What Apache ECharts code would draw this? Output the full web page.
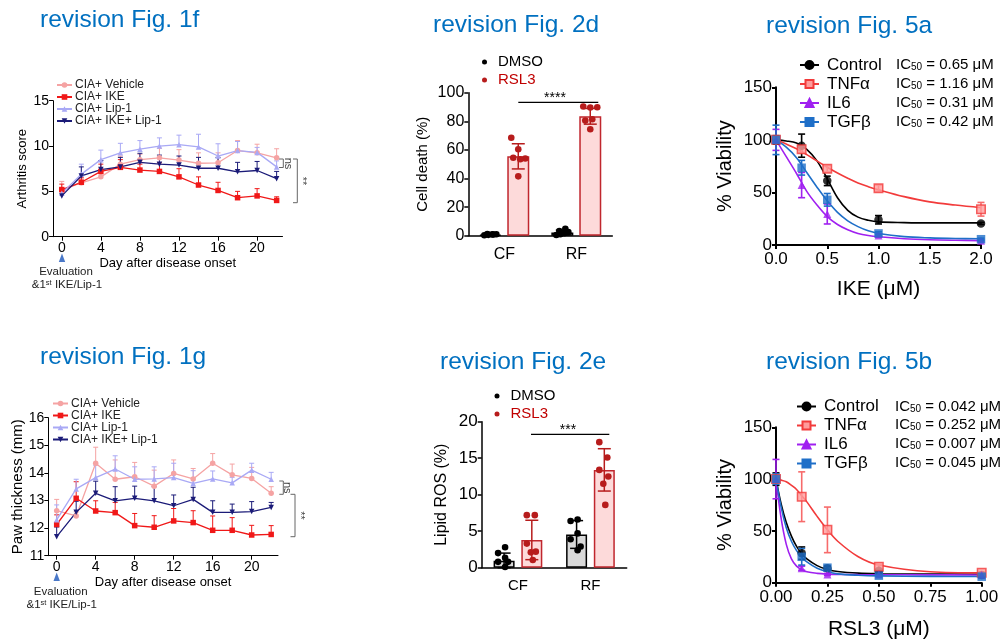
<!DOCTYPE html>
<html>
<head>
<meta charset="utf-8">
<script src="https://cdn.jsdelivr.net/npm/echarts@6/dist/echarts.min.js"></script>
<style>html,body{margin:0;background:#fff}#main{width:1000px;height:640px}</style>
</head>
<body>
<div id="main"></div>
<script>
// ---------- data ----------
var days = [0, 2, 4, 6, 8, 10, 12, 14, 16, 18, 20, 22];
var dayTicks = [0, 4, 8, 12, 16, 20];
var groupNames = ['CIA+ Vehicle', 'CIA+ IKE', 'CIA+ Lip-1', 'CIA+ IKE+ Lip-1'];

// Fig 1f: arthritis score, mean and SEM
var scoreVehicle = [5.1, 5.95, 6.6, 8.0, 8.5, 8.7, 8.45, 8.1, 8.15, 9.5, 9.25, 8.7];
var scoreVehicleSem = [1.0, 0.4, 0.7, 0.9, 0.6, 1.05, 1.15, 1.15, 1.1, 1.1, 0.95, 1.0];
var scoreIke = [5.2, 6.0, 7.2, 7.65, 7.35, 7.2, 6.6, 5.7, 5.1, 4.3, 4.5, 4.0];
var scoreIkeSem = [0.6, 0.5, 0.8, 0.85, 0.65, 0.95, 0.9, 0.9, 0.9, 0.7, 0.8, 0.4];
var scoreLip = [4.8, 6.9, 8.5, 9.25, 9.65, 10.0, 10.15, 9.9, 8.9, 9.5, 9.3, 7.7];
var scoreLipSem = [0.3, 1.1, 1.05, 1.05, 0.95, 0.9, 1.05, 1.4, 1.35, 1.0, 0.55, 0.66];
var scoreBoth = [4.5, 6.7, 7.4, 7.7, 8.2, 8.0, 7.9, 7.55, 7.55, 7.15, 7.3, 6.4];
var scoreBothSem = [0.8, 1.0, 1.0, 1.05, 1.0, 1.0, 1.0, 1.2, 1.2, 1.05, 1.0, 0.8];

// Fig 1g: paw thickness (mm), mean and SEM
var pawVehicle = [12.63, 12.44, 14.35, 13.77, 13.86, 13.52, 13.98, 13.78, 14.35, 13.93, 13.8, 13.26];
var pawVehicleSem = [0.41, 0.15, 0.58, 0.7, 0.52, 0.58, 0.49, 0.38, 0.35, 0.39, 0.4, 0.24];
var pawIke = [12.13, 13.08, 12.62, 12.56, 12.09, 12.03, 12.26, 12.2, 11.92, 11.92, 11.75, 11.77];
var pawIkeSem = [0.35, 0.6, 0.37, 0.37, 0.44, 0.42, 0.45, 0.43, 0.52, 0.46, 0.35, 0.32];
var pawLip = [12.3, 13.42, 13.83, 14.14, 13.77, 13.78, 13.83, 13.62, 13.78, 13.64, 14.1, 13.77];
var pawLipSem = [0.54, 0.35, 0.45, 0.48, 0.45, 0.44, 0.52, 0.46, 0.29, 0.2, 0.25, 0.25];
var pawBoth = [11.69, 12.57, 13.26, 12.99, 13.08, 12.99, 12.81, 13.04, 12.57, 12.57, 12.6, 12.75];
var pawBothSem = [0.35, 0.4, 0.44, 0.51, 0.44, 0.51, 0.39, 0.44, 0.42, 0.3, 0.36, 0.18];

// Fig 2d / 2e: CF vs RF
var cellCats = ['CF', 'RF'];
var deathDmsoMean = [0.8, 2.3];
var deathDmsoSd = [0.5, 1.6];
var deathRsl3Mean = [55.5, 83.5];
var deathRsl3Sd = [8.8, 5.5];
var deathDmsoPts = [[0.3, 0.6, 0.9, 1.0, 1.2, 0.8], [0.5, 1.0, 1.8, 2.5, 3.2, 4.8]];
var deathRsl3Pts = [[68.5, 60.5, 54.0, 54.5, 53.5, 41.5], [90.3, 89.6, 89.8, 80.5, 81.4, 74.4]];

var rosDmsoMean = [0.95, 4.55];
var rosDmsoSd = [1.05, 1.9];
var rosRsl3Mean = [3.8, 13.4];
var rosRsl3Sd = [2.7, 2.9];
var rosDmsoPts = [[2.8, 2.0, 1.35, 0.8, 0.8, 0.1], [6.6, 6.4, 4.7, 3.9, 2.9, 2.4]];
var rosRsl3Pts = [[7.2, 7.2, 3.3, 2.2, 2.1, 1.05], [17.2, 15.1, 13.4, 12.5, 11.5, 8.6]];

// Fig 5a / 5b: viability
var condNames = ['Control', 'TNFα', 'IL6', 'TGFβ'];
var ikeDose = [0, 0.25, 0.5, 1, 2];
var ikeMean = [
  [100, 94.5, 61, 24, 20.5],
  [100, 91, 72.5, 54, 34],
  [100, 57, 29.5, 9, 4],
  [100, 73.5, 43, 11, 5.5]
];
var ikeSd = [
  [4, 11, 4.5, 4, 1],
  [2, 3, 3, 3, 6.5],
  [10, 12, 9.5, 1.5, 1],
  [14, 7, 6, 1.5, 1]
];
var ikeFitX = [0, 0.1, 0.2, 0.3, 0.4, 0.5, 0.6, 0.7, 0.8, 0.9, 1.0, 1.25, 1.5, 1.75, 2.0];
var ikeFit = [
  [100, 99, 97, 91, 80, 63, 45, 33, 26.5, 23.5, 22, 21.3, 21, 21, 21],
  [100, 96, 91.5, 86, 80, 74, 68.5, 63.5, 59, 55.5, 52.5, 46, 41, 38, 35.5],
  [100, 84, 68, 51, 38, 27, 19.5, 14.5, 11, 9, 7.8, 6, 5, 4.5, 4.2],
  [100, 93, 83, 69, 55, 42, 31, 23, 17.5, 13.5, 11, 8, 6.8, 6.2, 6]
];
var ikeIc50 = ['0.65', '1.16', '0.31', '0.42'];

var rslDose = [0, 0.125, 0.25, 0.5, 1];
var rslMean = [
  [100, 28.5, 14, 11.5, 7.5],
  [100, 83, 51, 15.5, 9.5],
  [100, 14, 8, 8, 7.5],
  [100, 25, 14.5, 6.8, 5.8]
];
var rslSd = [
  [6, 6, 2, 1, 1],
  [2, 24, 22, 2, 1],
  [19, 2, 1, 1, 1],
  [5, 8, 2, 1, 1]
];
var rslFitX = [0, 0.025, 0.05, 0.075, 0.1, 0.125, 0.15, 0.2, 0.25, 0.3, 0.4, 0.5, 0.75, 1.0];
var rslFit = [
  [100, 76, 58, 45, 35, 28, 23, 16.5, 12.8, 10.8, 9.2, 8.7, 8.3, 8.2],
  [100, 99, 97.5, 94, 90, 84, 78, 64, 51, 40, 25, 17, 10.5, 9.5],
  [100, 62, 37, 23, 16, 12.5, 10.5, 9, 8.3, 8, 7.8, 7.7, 7.6, 7.5],
  [100, 73, 53, 40, 31, 25, 20, 14, 10.5, 8.5, 7.2, 6.6, 6.1, 6]
];
var rslIc50 = ['0.042', '0.252', '0.007', '0.045'];

// ---------- styling ----------
var FONT = 'Liberation Sans';
var TITLE_BLUE = '#0070C0';
var lineColors = ['#F5A3A3', '#F01818', '#A9A9F5', '#1B1B78'];
var lineSymbols = ['circle', 'rect', 'triangle', 'path://M0,0L10,0L5,9Z'];
var condColors = ['#000000', '#F23B3B', '#A020F0', '#1F6FC8'];
var condFills = ['#000000', '#FF9C9C', '#A020F0', '#1F6FC8'];
var condSymbols = ['circle', 'rect', 'triangle', 'rect'];
var RED_DARK = '#B71C1C';

function zip3(xs, ms, es) {
  return xs.map(function (x, i) { return [x, ms[i], es[i]]; });
}
function pairs(xs, ys) {
  return xs.map(function (x, i) { return [x, ys[i]]; });
}
function ptsData(groups) {
  var out = [];
  groups.forEach(function (g, c) { g.forEach(function (v) { out.push([c, v]); }); });
  return out;
}

// error bars: value(0)=x, value(1)=mean, value(2)=error
function errorBars(color, cap, width, both, dx) {
  return function (params, api) {
    var x = api.value(0), m = api.value(1), e = api.value(2);
    var top = api.coord([x, m + e]);
    var mid = api.coord([x, m]);
    var low = both ? api.coord([x, Math.max(m - e, 0)]) : mid;
    var cx = mid[0] + (dx || 0);
    var st = { stroke: color, lineWidth: width };
    var kids = [
      { type: 'line', shape: { x1: cx, y1: low[1], x2: cx, y2: top[1] }, style: st },
      { type: 'line', shape: { x1: cx - cap, y1: top[1], x2: cx + cap, y2: top[1] }, style: st }
    ];
    if (both) kids.push({ type: 'line', shape: { x1: cx - cap, y1: low[1], x2: cx + cap, y2: low[1] }, style: st });
    return { type: 'group', children: kids };
  };
}

function dots(color, dx, jitter) {
  return function (params, api) {
    var p = api.coord([api.value(0), api.value(1)]);
    return {
      type: 'circle',
      shape: { cx: p[0] + dx + jitter[params.dataIndex % jitter.length], cy: p[1], r: 3.3 },
      style: { fill: color }
    };
  };
}

function axisBase(grid, lw, fs) {
  return {
    gridIndex: grid,
    axisLine: { show: true, onZero: false, lineStyle: { color: '#000', width: lw } },
    axisTick: { show: true, inside: false, length: 4, lineStyle: { color: '#000', width: lw } },
    axisLabel: { color: '#000', fontSize: fs, fontFamily: FONT, margin: 4 },
    splitLine: { show: false },
    nameMoveOverlap: false,
    nameTextStyle: { color: '#000', fontFamily: FONT }
  };
}
function ext(a, b) { for (var k in b) a[k] = b[k]; return a; }

var titleStyle = { color: TITLE_BLUE, fontSize: 24.5, fontWeight: 'normal', fontFamily: FONT };
var titles = [
  { text: 'revision Fig. 1f', left: 40, top: 8 },
  { text: 'revision Fig. 2d', left: 433, top: 13 },
  { text: 'revision Fig. 5a', left: 766, top: 14 },
  { text: 'revision Fig. 1g', left: 40, top: 345 },
  { text: 'revision Fig. 2e', left: 440, top: 350 },
  { text: 'revision Fig. 5b', left: 766, top: 350 }
].map(function (t) { t.padding = 0; t.textStyle = titleStyle; return t; });

var grids = [
  { left: 53, top: 100.7, width: 229.5, height: 136 },
  { left: 468.3, top: 92.7, width: 144, height: 143 },
  { left: 776, top: 87.3, width: 205, height: 157.7 },
  { left: 48.3, top: 417.7, width: 229.7, height: 138 },
  { left: 481.7, top: 421.7, width: 145, height: 146 },
  { left: 776, top: 427.3, width: 205.7, height: 155.4 }
].map(function (g) { g.outerBoundsMode = 'none'; g.containLabel = false; return g; });

var xAxes = [
  ext(axisBase(0, 1, 14), {
    type: 'value', min: -0.9, max: 22.6,
    name: 'Day after disease onset', nameLocation: 'middle', nameGap: 20,
    nameTextStyle: { color: '#000', fontFamily: FONT, fontSize: 13 }
  }),
  ext(axisBase(1, 1.5, 16), { type: 'category', data: cellCats }),
  ext(axisBase(2, 2, 17), {
    type: 'value', min: 0, max: 2, interval: 0.5,
    name: 'IKE (μM)', nameLocation: 'middle', nameGap: 34,
    nameTextStyle: { color: '#000', fontFamily: FONT, fontSize: 21 }
  }),
  ext(axisBase(3, 1, 14), {
    type: 'value', min: -0.86, max: 22.7,
    name: 'Day after disease onset', nameLocation: 'middle', nameGap: 20,
    nameTextStyle: { color: '#000', fontFamily: FONT, fontSize: 13 }
  }),
  ext(axisBase(4, 1.5, 15), { type: 'category', data: cellCats }),
  ext(axisBase(5, 2, 17), {
    type: 'value', min: 0, max: 1, interval: 0.25,
    name: 'RSL3 (μM)', nameLocation: 'middle', nameGap: 36,
    nameTextStyle: { color: '#000', fontFamily: FONT, fontSize: 21 }
  })
];
[0, 3].forEach(function (i) {
  xAxes[i].axisLabel.customValues = dayTicks;
  xAxes[i].axisTick.customValues = dayTicks;
});
[1, 4].forEach(function (i) {
  xAxes[i].axisTick.show = false;
  xAxes[i].axisLabel.margin = 11;
});
xAxes[2].axisLabel.formatter = function (v) { return v.toFixed(1); };
xAxes[5].axisLabel.formatter = function (v) { return v.toFixed(2); };
xAxes[2].axisLabel.margin = 6;
xAxes[5].axisLabel.margin = 6;

var yAxes = [
  ext(axisBase(0, 1, 14), {
    type: 'value', min: 0, max: 15, interval: 5,
    name: 'Arthritis score', nameLocation: 'middle', nameGap: 24,
    nameTextStyle: { color: '#000', fontFamily: FONT, fontSize: 13 }
  }),
  ext(axisBase(1, 1.5, 16), {
    type: 'value', min: 0, max: 100, interval: 20,
    name: 'Cell death (%)', nameLocation: 'middle', nameGap: 38,
    nameTextStyle: { color: '#000', fontFamily: FONT, fontSize: 15 }
  }),
  ext(axisBase(2, 2, 17), {
    type: 'value', min: 0, max: 150, interval: 50,
    name: '% Viability', nameLocation: 'middle', nameGap: 41,
    nameTextStyle: { color: '#000', fontFamily: FONT, fontSize: 20 }
  }),
  ext(axisBase(3, 1, 14), {
    type: 'value', min: 11, max: 16, interval: 1,
    name: 'Paw thickness (mm)', nameLocation: 'middle', nameGap: 23,
    nameTextStyle: { color: '#000', fontFamily: FONT, fontSize: 15 }
  }),
  ext(axisBase(4, 1.5, 17), {
    type: 'value', min: 0, max: 20, interval: 5,
    name: 'Lipid ROS (%)', nameLocation: 'middle', nameGap: 32,
    nameTextStyle: { color: '#000', fontFamily: FONT, fontSize: 16 }
  }),
  ext(axisBase(5, 2, 17), {
    type: 'value', min: 0, max: 150, interval: 50,
    name: '% Viability', nameLocation: 'middle', nameGap: 41,
    nameTextStyle: { color: '#000', fontFamily: FONT, fontSize: 20 }
  })
];

var series = [];

// ---- Fig 1f / 1g: time courses ----
function timeCourse(axisIdx, means, sems) {
  means.forEach(function (m, i) {
    series.push({
      type: 'custom', xAxisIndex: axisIdx, yAxisIndex: axisIdx, silent: true, z: 2,
      data: zip3(days, m, sems[i]),
      renderItem: errorBars(lineColors[i], 2.5, 1, false, 0)
    });
    series.push({
      name: groupNames[i], type: 'line', xAxisIndex: axisIdx, yAxisIndex: axisIdx, z: 3,
      data: pairs(days, m), symbol: lineSymbols[i], symbolSize: 5.5, showSymbol: true,
      lineStyle: { color: lineColors[i], width: 1.3 }, itemStyle: { color: lineColors[i] },
      clip: false
    });
  });
}
timeCourse(0, [scoreVehicle, scoreIke, scoreLip, scoreBoth], [scoreVehicleSem, scoreIkeSem, scoreLipSem, scoreBothSem]);
timeCourse(3, [pawVehicle, pawIke, pawLip, pawBoth], [pawVehicleSem, pawIkeSem, pawLipSem, pawBothSem]);

// ---- Fig 2d / 2e: bars with points ----
function barPanel(axisIdx, barW, gapPct, dmsoM, dmsoS, rslM, rslS, dmsoPts, rslPts, jitD, jitR) {
  var off = barW * (1 + gapPct / 100) / 2;
  series.push({
    name: 'DMSO', type: 'bar', xAxisIndex: axisIdx, yAxisIndex: axisIdx,
    data: dmsoM, barWidth: barW, barGap: gapPct + '%',
    itemStyle: { color: '#D9D9D9', borderColor: '#000', borderWidth: 1.5 }
  });
  series.push({
    name: 'RSL3', type: 'bar', xAxisIndex: axisIdx, yAxisIndex: axisIdx,
    data: rslM, barWidth: barW, barGap: gapPct + '%',
    itemStyle: { color: '#FDDADA', borderColor: '#C0262D', borderWidth: 1.5 }
  });
  series.push({
    type: 'custom', xAxisIndex: axisIdx, yAxisIndex: axisIdx, silent: true, z: 3,
    data: ptsData(dmsoPts), renderItem: dots('#000', -off, jitD)
  });
  series.push({
    type: 'custom', xAxisIndex: axisIdx, yAxisIndex: axisIdx, silent: true, z: 3,
    data: ptsData(rslPts), renderItem: dots(RED_DARK, off, jitR)
  });
  series.push({
    type: 'custom', xAxisIndex: axisIdx, yAxisIndex: axisIdx, silent: true, z: 4,
    data: zip3([0, 1], dmsoM, dmsoS), renderItem: errorBars('#000', 6.5, 1.5, true, -off)
  });
  series.push({
    type: 'custom', xAxisIndex: axisIdx, yAxisIndex: axisIdx, silent: true, z: 4,
    data: zip3([0, 1], rslM, rslS), renderItem: errorBars(RED_DARK, 6.5, 1.5, true, off)
  });
}
barPanel(1, 22, 27, deathDmsoMean, deathDmsoSd, deathRsl3Mean, deathRsl3Sd,
  deathDmsoPts, deathRsl3Pts, [-6, -2, 2, 6, -3, 3], [-7, 0, 7, -5, 2, 0]);
barPanel(4, 21, 32, rosDmsoMean, rosDmsoSd, rosRsl3Mean, rosRsl3Sd,
  rosDmsoPts, rosRsl3Pts, [1, -6, 1, -6, 4, 1], [-5, 3, -5, 4, -1, 1]);

// ---- Fig 5a / 5b: dose response ----
function dosePanel(axisIdx, dose, means, sds, fitX, fits) {
  means.forEach(function (m, i) {
    series.push({
      name: condNames[i], type: 'line', xAxisIndex: axisIdx, yAxisIndex: axisIdx, z: 2,
      data: pairs(fitX, fits[i]), smooth: 0.35, showSymbol: false,
      symbol: condSymbols[i],
      lineStyle: { color: condColors[i], width: 1.6 },
      itemStyle: { color: condFills[i], borderColor: condColors[i], borderWidth: 1.2 }
    });
    series.push({
      type: 'custom', xAxisIndex: axisIdx, yAxisIndex: axisIdx, silent: true, z: 3,
      data: zip3(dose, m, sds[i]),
      renderItem: errorBars(i === 1 ? '#F76B6B' : condColors[i], 3.5, 1.6, true, 0)
    });
    series.push({
      type: 'scatter', xAxisIndex: axisIdx, yAxisIndex: axisIdx, z: 4, silent: true,
      data: pairs(dose, m), symbol: condSymbols[i], symbolSize: i === 2 ? 8 : 8.5, clip: false,
      itemStyle: { color: condFills[i], borderColor: condColors[i], borderWidth: i === 1 ? 1.5 : 0 }
    });
  });
}
dosePanel(2, ikeDose, ikeMean, ikeSd, ikeFitX, ikeFit);
dosePanel(5, rslDose, rslMean, rslSd, rslFitX, rslFit);

// ---------- legends ----------
function lineLegend(left, top) {
  return {
    orient: 'vertical', left: left, top: top, padding: 0,
    itemWidth: 15, itemHeight: 7, itemGap: 0, selectedMode: false,
    data: groupNames,
    textStyle: { color: '#222', fontSize: 12, fontFamily: FONT, lineHeight: 10.6, padding: [0, 0, 0, -2] }
  };
}
function dotLegend(left, top) {
  return {
    orient: 'vertical', left: left, top: top, padding: 0, icon: 'circle',
    itemWidth: 5, itemHeight: 5, itemGap: 2, selectedMode: false,
    data: [
      { name: 'DMSO', itemStyle: { color: '#000', borderWidth: 0 } },
      { name: 'RSL3', itemStyle: { color: RED_DARK, borderWidth: 0 }, textStyle: { color: '#C00000' } }
    ],
    textStyle: { color: '#000', fontSize: 15, fontFamily: FONT, lineHeight: 16, padding: [0, 0, 0, 6] }
  };
}
function doseLegend(left, top) {
  return {
    orient: 'vertical', left: left, top: top, padding: 0,
    itemWidth: 19, itemHeight: 10, itemGap: 2, selectedMode: false,
    data: condNames,
    textStyle: { color: '#000', fontSize: 17, fontFamily: FONT, lineHeight: 17, padding: [0, 0, 0, 3] }
  };
}
var legends = [
  lineLegend(56, 79),
  lineLegend(52, 397.5),
  dotLegend(482, 54),
  dotLegend(494.5, 388),
  doseLegend(799, 56.5),
  doseLegend(796, 398)
];

// ---------- annotations ----------
var textBase = { fill: '#000', fontFamily: FONT };
function txt(x, y, s, size, extra) {
  var st = ext({ text: s, fontSize: size, align: 'center', verticalAlign: 'middle' }, textBase);
  return ext({ type: 'text', x: x, y: y, silent: true, style: ext(st, extra || {}) }, {});
}
function bracket(x0, x1, y0, y1) {
  return {
    type: 'polyline', silent: true,
    shape: { points: [[x0, y0], [x1, y0], [x1, y1], [x0, y1]] },
    style: { stroke: '#666', lineWidth: 1, fill: null }
  };
}
function hline(x0, x1, y) {
  return { type: 'line', silent: true, shape: { x1: x0, y1: y, x2: x1, y2: y }, style: { stroke: '#000', lineWidth: 1.2 } };
}
function evalNote(x, yTri, yText) {
  return [
    { type: 'polygon', silent: true, shape: { points: [[x, yTri - 4.5], [x - 3.2, yTri + 4], [x + 3.2, yTri + 4]] }, style: { fill: '#4A78C8' } },
    txt(x + 4, yText, 'Evaluation', 11.5, { fill: '#222' }),
    {
      type: 'text', x: x + 5, y: yText + 12.5, silent: true,
      style: {
        text: '{a|&1}{s|st}{a| IKE/Lip-1}', align: 'center', verticalAlign: 'middle',
        rich: {
          a: { fontSize: 11.5, fontFamily: FONT, fill: '#222' },
          s: { fontSize: 7.5, fontFamily: FONT, fill: '#222', verticalAlign: 'top' }
        }
      }
    }
  ];
}
function icText(x, y, val) {
  return {
    type: 'text', x: x, y: y, silent: true,
    style: {
      text: '{n|IC}{s|50}{n| = ' + val + ' μM}', verticalAlign: 'middle',
      rich: {
        n: { fontSize: 15, fontFamily: FONT, fill: '#000' },
        s: { fontSize: 10, fontFamily: FONT, fill: '#000', verticalAlign: 'bottom' }
      }
    }
  };
}

var graphics = []
  .concat(evalNote(62, 258, 272))
  .concat(evalNote(56.7, 577, 592))
  .concat([
    bracket(279, 283.3, 159, 167.5), txt(288, 163.5, 'ns', 11, { fill: '#444' }),
    bracket(293, 297.3, 159, 202.7), txt(302, 181, '**', 11, { fill: '#444' }),
    bracket(279.3, 283.3, 481, 494.3), txt(287.5, 487.7, 'ns', 11, { fill: '#444' }),
    bracket(290.5, 295, 494.3, 536.7), txt(300.5, 515.5, '**', 11, { fill: '#444' }),
    hline(518.3, 598.3, 102.3), txt(555, 98, '****', 14),
    hline(531, 609.3, 434.3), txt(568, 430, '***', 14)
  ]);
// rotate ns / ** labels
graphics.forEach(function (g) {
  if (g.type === 'text' && (g.style.text === 'ns' || g.style.text === '**') && g.x > 270) g.rotation = -Math.PI / 2;
});
var icRows5a = [65, 83.5, 103, 122];
var icRows5b = [407, 424.5, 444, 463];
ikeIc50.forEach(function (v, i) { graphics.push(icText(896, icRows5a[i], v)); });
rslIc50.forEach(function (v, i) { graphics.push(icText(895, icRows5b[i], v)); });

var chart = echarts.init(document.getElementById('main'));
chart.setOption({
  animation: false,
  backgroundColor: '#fff',
  title: titles,
  grid: grids,
  xAxis: xAxes,
  yAxis: yAxes,
  legend: legends,
  series: series,
  graphic: graphics
});
</script>
</body>
</html>
